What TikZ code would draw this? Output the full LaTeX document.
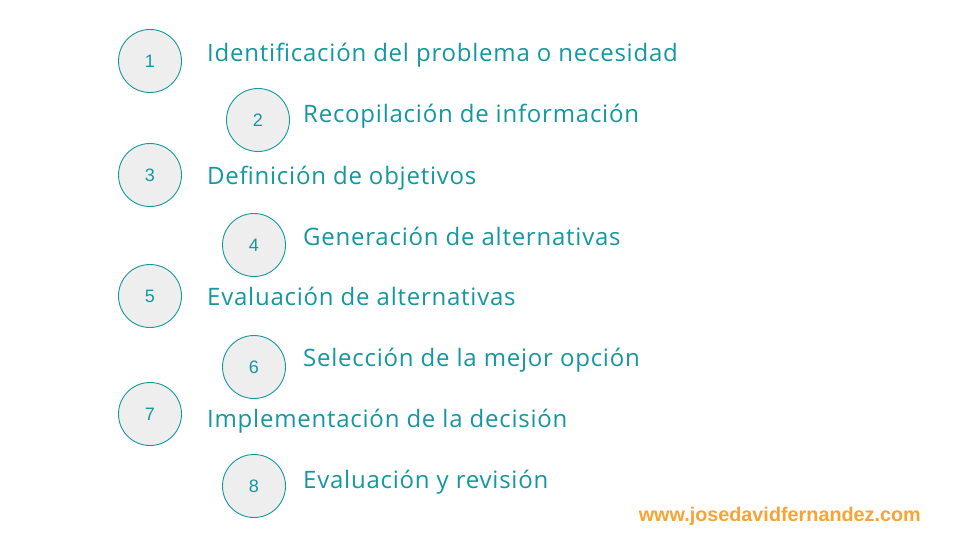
\documentclass[tikz,border=0pt]{standalone}
\usepackage{fontspec}
\setmainfont{Open Sans}[LetterSpace=3.2]
\newfontfamily\webfont{Liberation Sans}
\usetikzlibrary{arrows}
\definecolor{tealtxt}{RGB}{20,152,160}
\definecolor{circfill}{RGB}{238,238,238}
\definecolor{weborange}{RGB}{247,163,53}

\begin{document}
\begin{tikzpicture}[x=1pt,y=-1pt]
\tikzstyle{stepnum}=[circle, draw=tealtxt, fill=circfill, line width=0.9pt, minimum size=63pt, inner sep=0pt, text=tealtxt, font=\webfont\fontsize{18}{20}\selectfont]
\tikzstyle{steptxt}=[anchor=base west, inner sep=0pt, text=tealtxt, font=\fontsize{24}{28}\selectfont]
\useasboundingbox (0,0) rectangle (960,540);
\fill[white] (0,0) rectangle (960,540);
\draw (150,61) node (c1) [stepnum] {1};
\draw (258,120) node (c2) [stepnum] {2};
\draw (150,175) node (c3) [stepnum] {3};
\draw (254,245) node (c4) [stepnum] {4};
\draw (150,296) node (c5) [stepnum] {5};
\draw (254,367) node (c6) [stepnum] {6};
\draw (150,414) node (c7) [stepnum] {7};
\draw (254,486) node (c8) [stepnum] {8};
\draw (207,62) node (t1) [steptxt] {Identificación del problema o necesidad};
\draw (303,123) node (t2) [steptxt] {Recopilación de información};
\draw (207,184) node (t3) [steptxt] {Definición de objetivos};
\draw (303,245) node (t4) [steptxt] {Generación de alternativas};
\draw (207,305) node (t5) [steptxt] {Evaluación de alternativas};
\draw (303,366) node (t6) [steptxt] {Selección de la mejor opción};
\draw (207,427) node (t7) [steptxt] {Implementación de la decisión};
\draw (303,488) node (t8) [steptxt] {Evaluación y revisión};
\draw (921,521) node (web) [anchor=base east, inner sep=0pt, text=weborange, font=\webfont\bfseries\fontsize{19.8}{24}\selectfont] {www.josedavidfernandez.com};
\end{tikzpicture}
\end{document}
